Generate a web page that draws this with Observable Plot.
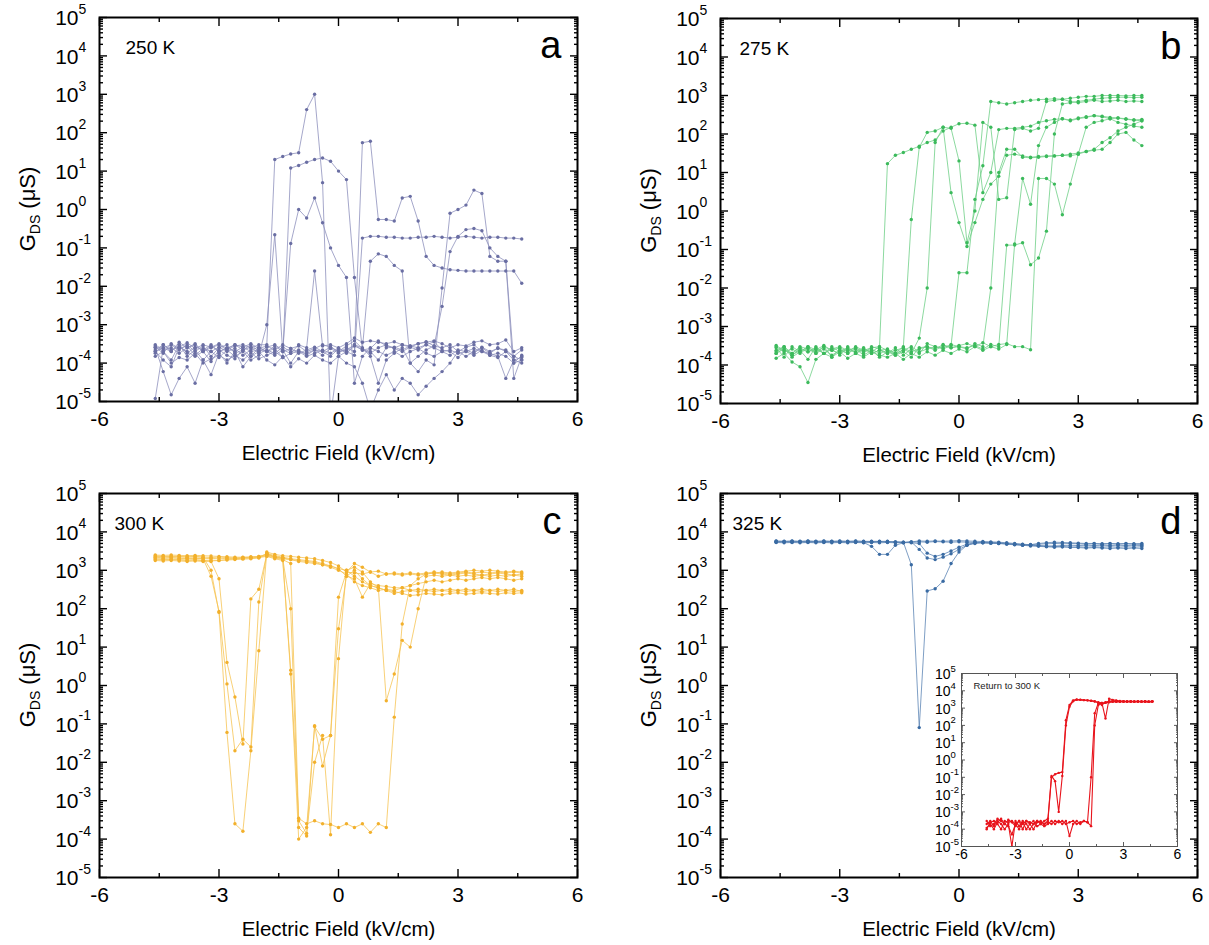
<!DOCTYPE html>
<html><head><meta charset="utf-8">
<script src="https://cdn.jsdelivr.net/npm/d3@7"></script>
<script src="https://cdn.jsdelivr.net/npm/@observablehq/plot@0.6"></script>
<style>
body{margin:0;background:#fff;}
#fig{position:relative;width:1209px;height:945px;background:#fff;}
</style></head><body><div id="fig"></div>
<script>
// Electric field sweep points (kV/cm)
const FIELD = [-4.6,-4.4,-4.2,-4.0,-3.8,-3.6,-3.4,-3.2,-3.0,-2.8,
  -2.6,-2.4,-2.2,-2.0,-1.8,-1.6,-1.4,-1.2,-1.0,-0.8,
  -0.6,-0.4,-0.2,0.0,0.2,0.4,0.6,0.8,1.0,1.2,
  1.4,1.6,1.8,2.0,2.2,2.4,2.6,2.8,3.0,3.2,
  3.4,3.6,3.8,4.0,4.2,4.4,4.6];

// ---- Panel a: 250 K (G_DS in µS) ----
const A1 = [1.2e-5,2.5e-4,3e-4,2.2e-4,3e-4,2e-4,2.8e-4,1.5e-4,2.5e-4,3e-4,
  1.8e-4,2.2e-4,3e-4,2e-4,2.6e-4,3e-4,2.2e-4,1.8e-4,3e-4,2.5e-4,
  0.025,2.8e-4,3e-4,2.5e-4,3.2e-4,4.5e-4,3.5e-4,3.8e-4,3.5e-4,3.2e-4,
  3.6e-4,3e-4,2.8e-4,3.2e-4,3.5e-4,3.8e-4,3.2e-4,2.5e-4,3e-4,2.8e-4,
  3.5e-4,3.8e-4,3e-4,3.2e-4,4e-4,2e-4,2.5e-4];
const A2 = [2.5e-4,6e-5,1.5e-5,4e-5,8e-5,3e-5,1.2e-4,5e-5,1.8e-4,1e-4,
  2e-4,8e-5,1.5e-4,2e-4,1.2e-4,9e-5,1.5e-4,8e-5,1.3e-4,1e-4,
  1.6e-4,1.2e-4,1e-4,1.5e-4,1e-4,8e-5,3e-5,6e-6,2e-5,5e-5,
  2e-5,4e-5,3e-5,1.5e-5,2.5e-5,4e-5,6e-5,1e-4,2e-4,1.5e-4,
  2e-4,2.5e-4,1.8e-4,1.5e-4,4e-5,1.2e-4,1e-4];
const A3 = [2e-4,1.2e-4,8e-5,2.6e-4,2e-4,1.5e-4,2e-4,1.1e-4,2.2e-4,1.6e-4,
  1.3e-4,2.2e-4,1.5e-4,2.5e-4,2e-4,1.6e-4,2.2e-4,1e-4,2e-4,1.8e-4,
  2.2e-4,2e-4,1.5e-4,2.4e-4,1.8e-4,2.8e-4,2.2e-4,2e-4,1.2e-4,2.5e-4,
  2.6e-4,2.2e-4,2.8e-4,2.5e-4,3e-4,3.6e-4,2.2e-4,2e-4,1.4e-4,2.2e-4,
  1.8e-4,2.6e-4,2e-4,2.4e-4,2.2e-4,1.5e-4,1.2e-4];
const A4 = [2.2e-4,3e-4,2e-4,3.5e-4,2.5e-4,3e-4,2e-4,2.5e-4,3e-4,2.2e-4,
  2.8e-4,3e-4,2.5e-4,3e-4,3e-4,20,24,28,30,400,
  1000,5,4e-6,1.5e-4,2e-4,3e-4,2.5e-4,1.5e-4,3e-5,1.2e-4,
  1.8e-4,2.5e-4,1e-4,1.5e-4,2.2e-4,2.8e-4,2.5e-4,3e-4,2e-4,2.6e-4,
  3e-4,2e-4,1.8e-4,2.5e-4,2e-4,1.5e-4,2.2e-4];
const A5 = [3e-4,2.2e-4,2.5e-4,1.8e-4,2.5e-4,3.2e-4,2e-4,2.8e-4,2e-4,2.5e-4,
  2e-4,2.6e-4,2e-4,2.2e-4,2e-4,2.4e-4,1.4e-4,12,14,17,
  20,22,18,10,6,0.017,2.2e-4,1.8e-4,2.5e-4,3e-4,
  2.4e-4,2e-4,2.6e-4,2.2e-4,3e-4,2.5e-4,2e-4,1.6e-4,2.2e-4,2e-4,
  2.4e-4,2e-4,1.6e-4,1.4e-4,2e-4,1.2e-4,1.4e-4];
const A6 = [2.8e-4,2e-4,1.2e-4,3e-4,1.5e-4,2.2e-4,1.2e-4,2e-4,1.4e-4,2.2e-4,
  1.5e-4,2e-4,1.2e-4,1.6e-4,1e-3,0.22,2e-4,0.13,1.0,0.6,
  2.0,0.45,0.1,0.035,0.017,3e-5,1.5e-4,2.5e-4,2e-4,1.6e-4,
  2e-4,1.5e-4,2e-4,2.4e-4,1.8e-4,1.5e-4,2e-4,2.2e-4,1.8e-4,2e-4,
  1.6e-4,2.2e-4,1.6e-4,1.8e-4,1.5e-4,1e-4,1.6e-4];
const A7 = [2e-4,2.5e-4,2e-4,3e-4,1.8e-4,2.6e-4,2.2e-4,3e-4,2e-4,2.4e-4,
  3e-4,2.2e-4,2.6e-4,1.8e-4,2.2e-4,1.8e-4,2.6e-4,2e-4,2.2e-4,1.6e-4,
  2.2e-4,1.6e-4,2.4e-4,1.8e-4,2.5e-4,2e-4,55,60,0.55,0.55,
  0.5,2.0,2.2,0.5,0.06,0.035,0.03,0.027,0.026,0.025,
  0.025,0.025,0.025,0.025,0.025,0.025,0.012];
const A8 = [1.5e-4,2e-4,1e-4,1.4e-4,1.2e-4,1.8e-4,1e-4,1.3e-4,1.6e-4,1.2e-4,
  1.6e-4,1.2e-4,1.8e-4,1.3e-4,1.6e-4,2e-4,1.4e-4,1.8e-4,2e-4,1.5e-4,
  1.8e-4,2.2e-4,1.8e-4,2.4e-4,2e-4,1.6e-4,0.18,0.2,0.2,0.19,
  0.19,0.18,0.18,0.19,0.19,0.2,0.19,0.18,0.19,0.2,
  0.19,0.18,0.19,0.19,0.18,0.18,0.17];
const A9 = [2.6e-4,1.8e-4,3.2e-4,2.4e-4,2.8e-4,1.6e-4,2.4e-4,2e-4,2.6e-4,2e-4,
  2.4e-4,1.6e-4,2.2e-4,2.6e-4,2e-4,2.8e-4,2e-4,2.4e-4,1.8e-4,2.2e-4,
  2.6e-4,2e-4,2.6e-4,2e-4,2.8e-4,3.8e-4,2.4e-4,0.045,0.07,0.06,
  0.035,0.025,1e-4,6e-5,1.2e-4,9e-5,0.009,0.8,1.0,1.3,
  3.2,2.6,0.06,0.045,0.045,1e-4,1.2e-4];
const A10 = [1.8e-4,3e-4,2.2e-4,2.6e-4,3.4e-4,2.4e-4,3e-4,2.6e-4,3.2e-4,2.4e-4,
  3e-4,2.6e-4,3.2e-4,2.4e-4,2.8e-4,2.2e-4,3e-4,2.4e-4,2.8e-4,2e-4,
  2.4e-4,3e-4,2.6e-4,2e-4,2.2e-4,3e-4,2.2e-4,2.4e-4,3.8e-4,2.8e-4,
  2.5e-4,3e-4,2.6e-4,3.2e-4,3.6e-4,2.8e-4,0.003,0.08,0.2,0.3,
  0.32,0.28,0.1,0.06,0.045,4e-5,1.5e-4];

// ---- Panel b: 275 K ----
const B1 = [2.8e-4,1.6e-4,3e-4,2.2e-4,3e-4,2.5e-4,3.2e-4,2.4e-4,2.8e-4,2.2e-4,
  3e-4,2.4e-4,2.8e-4,3e-4,17,28,33,40,48,60,
  70,120,150,185,190,170,3,10,130,140,
  140,150,160,200,220,240,250,230,260,280,
  300,290,270,260,240,230,220];
const B2 = [2e-4,2.6e-4,1.8e-4,2.4e-4,1.4e-4,3e-4,2e-4,2.6e-4,1.8e-4,3e-4,
  2e-4,2.6e-4,2.2e-4,3e-4,2.4e-4,2e-4,3e-4,0.6,45,110,
  120,150,3,0.5,0.12,0.5,2,5,8,28,
  30,27,25,26,27,27,28,27,30,35,
  38,40,60,100,110,70,50];
const B3 = [3.2e-4,2.4e-4,2e-4,3e-4,2.6e-4,2e-4,3e-4,1.6e-4,2.6e-4,2e-4,
  2.6e-4,1.8e-4,2.4e-4,1.6e-4,2.2e-4,1.8e-4,2.6e-4,2e-4,5e-4,0.01,
  60,150,140,20,0.15,1,200,150,2,2.2,
  130,140,120,140,700,750,800,700,650,700,
  750,700,720,750,700,720,700];
const B4 = [2.4e-4,3e-4,2e-4,2.8e-4,2.2e-4,2.6e-4,2e-4,3e-4,2.2e-4,2.8e-4,
  2e-4,2.6e-4,2e-4,2.4e-4,2e-4,2.8e-4,1.8e-4,2.6e-4,2e-4,3.6e-4,
  3e-4,2.6e-4,3.2e-4,0.025,0.025,2,15,700,650,600,
  650,700,750,780,800,820,800,850,900,950,
  950,1000,1000,1000,980,1000,1000];
const B5 = [2e-4,2.8e-4,1.6e-4,2.2e-4,3e-4,2e-4,2.6e-4,1.8e-4,2.4e-4,2e-4,
  2.8e-4,2.2e-4,2.6e-4,2e-4,2.4e-4,1.8e-4,2.2e-4,1.6e-4,2.8e-4,3e-4,
  2.4e-4,3.2e-4,2.8e-4,3e-4,2.6e-4,3.6e-4,3e-4,0.01,10,40,
  40,25,24,25,26,27,28,30,32,35,
  40,60,80,120,150,180,220];
const B6 = [3e-4,2.2e-4,2.6e-4,2e-4,2.8e-4,2.2e-4,3e-4,2.4e-4,2e-4,2.6e-4,
  2.2e-4,2.8e-4,2e-4,2.4e-4,2.6e-4,2e-4,2.4e-4,3e-4,2.2e-4,2.6e-4,
  3e-4,2.8e-4,3.4e-4,3e-4,2.8e-4,3.2e-4,2.6e-4,3.4e-4,3e-4,0.13,
  0.13,0.15,0.04,0.06,0.3,100,600,650,700,750,
  800,850,880,900,900,880,900];
const B7 = [2.2e-4,3e-4,1.8e-4,2.6e-4,2.2e-4,2.8e-4,2e-4,2.6e-4,3e-4,2.4e-4,
  2.8e-4,2e-4,3e-4,2.6e-4,2e-4,2.4e-4,2.8e-4,2.2e-4,2.6e-4,3e-4,
  2.6e-4,3.4e-4,2.8e-4,3.2e-4,3.6e-4,3e-4,3.8e-4,3e-4,3.4e-4,3.6e-4,
  3e-4,3e-4,2.5e-4,7,7,5,0.8,5,30,150,
  200,220,250,260,250,230,240];
const B8 = [1.5e-4,2e-4,1.2e-4,9e-5,3.5e-5,1.4e-4,2e-4,1.6e-4,2.2e-4,1.5e-4,
  2e-4,1.6e-4,2.2e-4,1.8e-4,1.6e-4,2e-4,1.4e-4,2e-4,1.6e-4,2.2e-4,
  1.8e-4,2.4e-4,2e-4,2.6e-4,2.2e-4,3e-4,2.4e-4,3e-4,2.6e-4,3.4e-4,
  0.14,7,1.5,50,150,200,250,220,250,270,
  300,280,250,200,180,160,150];

// ---- Panel c: 300 K ----
const C1 = [2400,2300,2350,2300,2250,2300,2200,1000,80,0.06,
  2.5e-4,1.6e-4,0.02,8,3000,2600,2400,2300,2200,2100,
  2000,1800,1600,1300,900,850,800,900,950,800,
  850,800,850,800,850,900,850,800,850,900,
  850,900,850,900,850,900,850];
const C2 = [2200,2100,2150,2100,2050,2100,2000,700,85,1.1,
  0.02,0.04,0.025,150,2800,2400,2200,2000,1900,1800,
  1700,1500,1300,1100,700,600,200,450,400,380,
  350,350,400,450,500,550,500,550,600,550,
  600,650,600,650,600,550,600];
const C3 = [2000,1900,1950,1900,1850,1900,1800,1700,600,4,
  0.5,0.03,180,320,2600,2200,2100,1900,1800,1700,
  1600,1400,1200,1000,800,500,400,350,300,320,
  300,350,300,280,300,320,300,280,300,320,
  300,280,300,320,300,280,300];
const C4 = [1800,1750,1800,1750,1700,1750,1700,1750,1800,1900,
  2000,2100,2200,2300,2500,2200,2000,100,2e-4,1.2e-4,
  0.09,0.008,0.05,200,900,1500,1200,900,700,800,
  800,750,800,750,800,850,800,750,800,850,
  800,750,800,850,800,750,800];
const C5 = [2500,2450,2500,2450,2400,2450,2400,2350,2300,2250,
  2200,2200,2250,2300,2600,2300,2100,2,1e-4,2e-4,
  0.085,0.04,0.05,30,700,1000,600,400,350,300,
  250,280,300,320,300,280,300,320,300,280,
  300,320,300,280,300,320,280];
const C6 = [2300,2250,2300,2250,2200,2250,2200,2150,2200,2150,
  2100,2150,2100,2200,2400,2100,1900,1500,3e-4,1.4e-4,
  0.01,0.05,1.3e-4,5,1000,1200,900,500,350,300,
  280,250,220,230,250,240,230,250,260,240,
  250,260,250,240,260,250,260];
const C7 = [2100,2050,2100,2050,2000,2050,2000,2050,2000,2050,
  2000,2050,2100,2150,2300,2000,1800,2.5,3.5e-4,2.5e-4,
  3e-4,2.5e-4,2.4e-4,2e-4,2.5e-4,2e-4,2.5e-4,1.5e-4,2.5e-4,2e-4,
  0.15,40,400,600,800,850,900,850,900,950,
  1000,950,1000,950,900,950,900];
const C8 = [1900,1850,1900,1850,1800,1850,1800,1850,1800,1850,
  1900,1950,2000,2100,2800,2200,2000,1900,1700,1600,
  1500,1400,1300,1100,1000,700,500,400,350,0.4,
  2,15,10,100,700,750,700,750,700,750,
  700,750,700,750,700,750,700];

// ---- Panel d: 325 K ----
const D1 = [5600,5500,5600,5550,5600,5500,5550,5600,5500,5550,
  5500,5300,4200,2600,2600,4500,5200,5400,5500,5400,
  5600,5500,5400,5500,5400,5300,5200,5100,5000,4900,
  4800,4700,4500,4400,4200,4300,4400,4500,4400,4500,
  4400,4500,4400,4500,4400,4500,4400];
const D2 = [5400,5500,5400,5500,5400,5500,5400,5500,5400,5500,
  5400,5500,5400,5500,5400,5500,5400,1400,0.08,290,
  330,520,1500,3000,4500,5200,5400,5300,5200,5000,
  4800,4600,4500,4400,4300,4200,4100,4000,3900,3800,
  3900,3800,3700,3800,3700,3800,3700];
const D3 = [5800,5700,5800,5700,5800,5700,5800,5700,5800,5700,
  5800,5700,5600,5700,5600,5500,5400,5500,3500,2100,
  1900,2200,2700,3500,4500,5000,5200,5100,5000,4800,
  4600,4500,4700,4800,4900,5000,4900,5000,4900,4800,
  4900,4800,4900,4800,4900,4800,4700];
const D4 = [5300,5200,5300,5200,5300,5200,5300,5200,5300,5200,
  5300,5200,5300,5200,5300,5200,5300,5200,5000,2800,
  2300,2600,3200,4000,4800,5200,5300,5200,5100,4900,
  4700,4500,4300,4200,4100,4000,4100,4000,4100,4000,
  4100,4000,4100,4000,4100,4000,4100];
const D5 = [5700,5600,5700,5600,5700,5600,5700,5600,5700,5600,
  5700,5600,5700,5600,5700,5400,5200,5500,5800,5700,
  5800,5700,5800,5900,5800,5700,5600,5500,5400,5200,
  5000,4800,4600,5000,5200,5400,5300,5200,5100,5000,
  5000,4900,5000,4900,5000,4900,5000];

// ---- Inset: return to 300 K ----
const R1 = [3e-4,1.5e-4,2e-4,4e-4,3e-4,2e-4,3.5e-4,2.5e-4,1.5e-4,3e-4,
  2e-4,3e-4,2.5e-4,2e-4,3e-4,2.5e-4,2e-4,3e-4,0.1,0.15,
  0.18,0.2,200,1500,2800,3200,3000,2900,2800,2600,
  2400,2200,2000,2100,2300,2400,2300,2400,2300,2400,
  2300,2400,2300,2400,2300,2300,2300];
const R2 = [1.2e-4,2e-4,1e-4,2.5e-4,4e-4,2e-4,1.5e-4,5e-5,2e-4,1e-4,
  2.5e-4,1e-4,2e-4,3e-4,1.5e-4,2e-4,3e-4,4e-4,0.12,0.06,
  1e-3,0.12,100,1200,2500,3000,3100,2900,2800,2700,
  2500,2000,1800,2000,2200,2300,2400,2300,2400,2300,
  2400,2300,2400,2300,2400,2300,2400];
const R3 = [2e-4,3e-4,1.5e-4,3e-4,2e-4,1e-4,2e-4,1e-5,3e-4,1.5e-4,
  3e-4,2e-4,1e-4,2e-4,3e-4,2e-4,1.5e-4,2e-4,3e-4,2e-4,
  3e-4,2e-4,3e-4,4e-5,2e-4,3e-4,2e-4,3e-4,2.5e-4,1.5e-4,
  100,1500,2000,250,3500,3000,2800,2600,2500,2500,
  2500,2400,2500,2400,2500,2400,2500];
const R4 = [1e-4,2.5e-4,3e-4,2e-4,1e-4,3e-4,2.5e-4,3e-4,2e-4,3e-4,
  1e-4,3e-4,2e-4,1e-4,2.5e-4,3e-4,2e-4,2.5e-4,2e-4,3e-4,
  2.5e-4,3e-4,2e-4,2.5e-4,3e-4,2e-4,2.5e-4,3e-4,2.5e-4,0.1,
  500,2000,1500,2200,2500,2600,2500,2400,2500,2400,
  2500,2400,2500,2400,2500,2400,2500];

// ---- Tick values ----
const X_MAJOR = [-6, -3, 0, 3, 6];
const X_MINOR = [-4.5, -1.5, 1.5, 4.5];
const Y_MAJOR = [1e-5, 1e-4, 1e-3, 1e-2, 1e-1, 1e0, 1e1, 1e2, 1e3, 1e4, 1e5];
const Y_MINOR = [];
for (let e = -5; e < 5; e++) for (let m = 2; m <= 9; m++) Y_MINOR.push(m * Math.pow(10, e));

function tidy(series) {
  const rows = [];
  series.forEach((ys, s) => ys.forEach((y, j) => {
    if (y != null && j < FIELD.length) rows.push({s, x: FIELD[j], y});
  }));
  return rows;
}

const FONT = "'Liberation Sans', Arial, Helvetica, sans-serif";

function axesMarks(o) {
  const t = (anchor, k, ticks, size) =>
    (k === "x" ? Plot.axisX : Plot.axisY)({anchor, ticks, tickSize: -size, fill: "none", label: null, stroke: o.axisColor, strokeWidth: o.tickWidth});
  return [
    t("bottom", "x", X_MAJOR, o.maj), t("bottom", "x", X_MINOR, o.min),
    t("top", "x", X_MAJOR, o.maj), t("top", "x", X_MINOR, o.min),
    t("left", "y", Y_MAJOR, o.maj), t("left", "y", Y_MINOR, o.min),
    t("right", "y", Y_MAJOR, o.maj), t("right", "y", Y_MINOR, o.min),
    Plot.axisX({anchor: "bottom", ticks: X_MAJOR, tickSize: 0, tickPadding: o.xPad, tickFormat: d => String(d), fontSize: o.fs, label: null, fill: "black"}),
    Plot.text(Y_MAJOR, {y: d => d, frameAnchor: "left", text: () => "10", textAnchor: "end", dx: -o.yDx, dy: o.yDy, fontSize: o.fs, fill: "black"}),
    Plot.text(Y_MAJOR, {y: d => d, frameAnchor: "left", text: d => String(Math.round(Math.log10(d))), textAnchor: "start", dx: -o.yDx, dy: o.expDy, fontSize: o.expFs, fill: "black"})
  ];
}

function mainPanel(p) {
  const rows = tidy(p.series);
  const svg = Plot.plot({
    width: p.width, height: p.height,
    marginLeft: p.mL, marginRight: p.mR, marginTop: p.mT, marginBottom: p.mB,
    style: {fontFamily: FONT, background: "transparent", color: "black"},
    x: {domain: [-6, 6], label: null},
    y: {type: "log", domain: [1e-5, 1e5], label: null},
    marks: [
      Plot.line(rows, {x: "x", y: "y", z: "s", stroke: p.lineColor, strokeWidth: 0.8, clip: true}),
      Plot.dot(rows, {x: "x", y: "y", r: 1.7, fill: p.color, stroke: "none", clip: true}),
      ...axesMarks({maj: 8, min: 4, xPad: 10, fs: 21, yDx: 21, yDy: 1, expDy: -8, expFs: 14, axisColor: "black", tickWidth: 1.4}),
      Plot.frame({stroke: "black", strokeWidth: 2}),
      Plot.text([p.temp], {frameAnchor: "top-left", dx: p.tempDx, dy: 36, lineAnchor: "bottom", fontSize: 19, fill: "black"}),
      Plot.text([p.letter], {frameAnchor: "top-right", dx: -16, dy: 40, lineAnchor: "bottom", textAnchor: "end", fontSize: 38, fill: "black"}),
      Plot.text(["Electric Field (kV/cm)"], {frameAnchor: "bottom", dy: 58, lineAnchor: "bottom", fontSize: 20.5, fill: "black"})
    ]
  });
  svg.style.position = "absolute";
  svg.style.left = p.left + "px";
  svg.style.top = p.top + "px";
  // y-axis title with subscript
  const cy = p.mT + (p.height - p.mT - p.mB) / 2;
  const t = d3.select(svg).append("text")
    .attr("transform", `translate(${p.mL - 64},${cy}) rotate(-90)`)
    .attr("text-anchor", "middle").attr("font-size", 22).attr("fill", "black")
    .attr("font-family", FONT);
  t.append("tspan").text("G");
  t.append("tspan").attr("font-size", 14).attr("dy", 5).text("DS");
  t.append("tspan").attr("dy", -5).text(" (\u03BCS)");
  return svg;
}

const fig = document.getElementById("fig");
const panels = [
  {series: [A1,A2,A3,A4,A5,A6,A7,A8,A9,A10], color: "#6a6ea3", lineColor: "#8e91bd", temp: "250 K", tempDx: 26, letter: "a",
   left: 0, top: 0, width: 604, height: 470, mL: 99, mR: 27, mT: 17, mB: 69},
  {series: [B1,B2,B3,B4,B5,B6,B7,B8], color: "#3cba5c", lineColor: "#6fcf86", temp: "275 K", tempDx: 19, letter: "b",
   left: 604, top: 0, width: 605, height: 470, mL: 116, mR: 12, mT: 18, mB: 67},
  {series: [C1,C2,C3,C4,C5,C6,C7,C8], color: "#f2b02c", lineColor: "#f6c454", temp: "300 K", tempDx: 15, letter: "c",
   left: 0, top: 470, width: 604, height: 475, mL: 99, mR: 27, mT: 23, mB: 68},
  {series: [D1,D2,D3,D4,D5], color: "#3a6ba3", lineColor: "#5d85b5", temp: "325 K", tempDx: 12, letter: "d",
   left: 604, top: 470, width: 605, height: 475, mL: 116, mR: 12, mT: 23, mB: 68}
];
for (const p of panels) fig.appendChild(mainPanel(p));

// Inset
const insetRows = tidy([R1, R2, R3, R4]);
const inset = Plot.plot({
  width: 280, height: 212, marginLeft: 56, marginRight: 8, marginTop: 18, marginBottom: 21,
  style: {fontFamily: FONT, background: "transparent", color: "black"},
  x: {domain: [-6, 6], label: null},
  y: {type: "log", domain: [1e-5, 1e5], label: null},
  marks: [
    Plot.line(insetRows, {x: "x", y: "y", z: "s", stroke: "#e8141c", strokeWidth: 1.1, clip: true}),
    Plot.dot(insetRows, {x: "x", y: "y", r: 1.2, fill: "#e8141c", clip: true}),
    ...axesMarks({maj: 4, min: 2, xPad: 3, fs: 14, yDx: 11, yDy: 1, expDy: -5, expFs: 9.5, axisColor: "#333", tickWidth: 0.8}),
    Plot.frame({stroke: "#555", strokeWidth: 1}),
    Plot.text(["Return to 300 K"], {frameAnchor: "top-left", dx: 12, dy: 15, lineAnchor: "bottom", fontSize: 9.5, fill: "#222"})
  ]
});
inset.style.position = "absolute";
inset.style.left = "905px";
inset.style.top = "655px";
fig.appendChild(inset);
</script></body></html>
